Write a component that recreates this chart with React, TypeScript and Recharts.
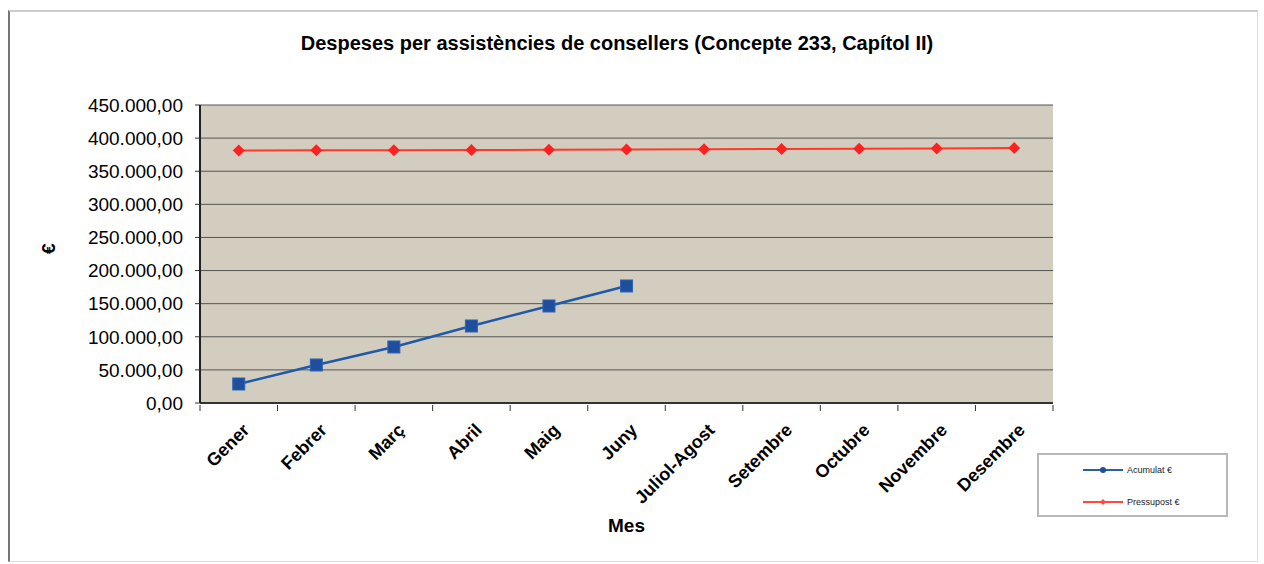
import { CartesianGrid, Line, LineChart, XAxis, YAxis } from 'recharts';

const months = ['Gener', 'Febrer', 'Març', 'Abril', 'Maig', 'Juny', 'Juliol-Agost', 'Setembre', 'Octubre', 'Novembre', 'Desembre'];
const acumulat = [28700, 57400, 84600, 116300, 146500, 176700, null, null, null, null, null];
const pressupost = [381300, 381500, 381800, 382000, 382300, 382700, 383200, 383700, 384100, 384500, 384900];
const yTicks = [0, 50000, 100000, 150000, 200000, 250000, 300000, 350000, 400000, 450000];
const seriesNames = ['Acumulat €', 'Pressupost €'];

const data = months.map((mes, i) => ({ mes, acumulat: acumulat[i], pressupost: pressupost[i] }));

const PLOT_W = 853;
const HALF_BAND = PLOT_W / months.length / 2;
const FONT = 'Arial, "Liberation Sans", sans-serif';

const fmt = (v: number) => {
  const int = Math.floor(v).toString().replace(/\B(?=(\d{3})+(?!\d))/g, '.');
  return `${int},00`;
};

const XTick = (props: any) => {
  const { x, y, payload, index } = props;
  return (
    <g transform={`translate(${x},${y})`}>
      <line x1={-HALF_BAND} x2={-HALF_BAND} y1={-6} y2={0} stroke="#333" />
      {index === months.length - 1 && <line x1={HALF_BAND} x2={HALF_BAND} y1={-6} y2={0} stroke="#333" />}
      <text
        x={-6}
        y={10}
        textAnchor="end"
        transform="rotate(-45)"
        fontFamily={FONT}
        fontWeight="bold"
        fontSize={18}
        fill="#000"
        dy="0.7em"
      >
        {payload.value}
      </text>
    </g>
  );
};

const SquareDot = (props: any) => {
  const { cx, cy, value } = props;
  if (value == null || cx == null || cy == null) return null;
  return <rect x={cx - 6} y={cy - 6} width={12} height={12} fill="#1f4f9c" stroke="#2b64b8" strokeWidth={1} />;
};

const DiamondDot = (props: any) => {
  const { cx, cy } = props;
  if (cx == null || cy == null) return null;
  return <polygon points={`${cx},${cy - 6} ${cx + 6},${cy} ${cx},${cy + 6} ${cx - 6},${cy}`} fill="#ff2020" />;
};

const LegendBox = () => (
  <div
    style={{
      position: 'absolute',
      left: 1037,
      top: 453,
      width: 191,
      height: 64,
      border: '2px solid #b8b8b8',
      background: '#fff',
      boxSizing: 'border-box',
      fontFamily: FONT,
      fontSize: 9,
      color: '#222',
    }}
  >
    {[
      { label: seriesNames[0], color: '#2a5fa8', marker: 'circle' },
      { label: seriesNames[1], color: '#ff4a3a', marker: 'diamond' },
    ].map((item, i) => (
      <div key={item.label} style={{ position: 'absolute', left: 44, top: i === 0 ? 9 : 41, display: 'flex', alignItems: 'center' }}>
        <svg width={42} height={12}>
          <line x1={0} x2={40} y1={6} y2={6} stroke={item.color} strokeWidth={2} />
          {item.marker === 'circle' ? (
            <circle cx={20} cy={6} r={3} fill="#1f4f9c" />
          ) : (
            <polygon points="20,3 23,6 20,9 17,6" fill={item.color} />
          )}
        </svg>
        <span style={{ marginLeft: 2 }}>{item.label}</span>
      </div>
    ))}
  </div>
);

export default function App() {
  return (
    <div style={{ position: 'absolute', left: 0, top: 0, width: 1264, height: 564, background: '#fff' }}>
      <div
        style={{
          position: 'absolute',
          left: 8,
          top: 10,
          width: 1250,
          height: 552,
          borderLeft: '2px solid #777',
          borderTop: '2px solid #ccc',
          borderRight: '1px solid #ddd',
          borderBottom: '1px solid #ddd',
          boxSizing: 'border-box',
        }}
      />
      <div
        style={{
          position: 'absolute',
          left: 0,
          top: 32,
          width: 1234,
          textAlign: 'center',
          fontFamily: FONT,
          fontWeight: 'bold',
          fontSize: 20,
          color: '#000',
        }}
      >
        Despeses per assistències de consellers (Concepte 233, Capítol II)
      </div>
      <div style={{ position: 'absolute', left: 0, top: 0 }}>
        <LineChart width={1264} height={564} data={data} margin={{ top: 105, right: 211, bottom: 0, left: 0 }}>
          <CartesianGrid vertical={false} stroke="#555" strokeWidth={1} fill="#d3cdbf" />
          <XAxis
            dataKey="mes"
            type="category"
            height={161}
            padding={{ left: HALF_BAND, right: HALF_BAND }}
            axisLine={{ stroke: '#333', strokeWidth: 2 }}
            tickLine={false}
            tick={<XTick />}
            interval={0}
            label={{ value: 'Mes', position: 'insideBottom', offset: 32, fontFamily: FONT, fontWeight: 'bold', fontSize: 19, fill: '#000' }}
          />
          <YAxis
            width={200}
            domain={[0, 450000]}
            ticks={yTicks}
            interval={0}
            tickFormatter={fmt}
            axisLine={{ stroke: '#222', strokeWidth: 2 }}
            tickLine={{ stroke: '#333' }}
            tickSize={5}
            tickMargin={12}
            tick={{ fontFamily: FONT, fontSize: 19, fill: '#000' }}
            label={{ value: '€', angle: -90, position: 'insideLeft', offset: 48, fontFamily: FONT, fontWeight: 'bold', fontSize: 19, fill: '#000' }}
          />
          <YAxis yAxisId="right" orientation="right" width={0} tick={false} tickLine={false} axisLine={{ stroke: '#888', strokeWidth: 2 }} />
          <Line
            dataKey="acumulat"
            name={seriesNames[0]}
            stroke="#1f5aa6"
            strokeWidth={2.5}
            dot={<SquareDot />}
            activeDot={false}
            connectNulls={false}
            isAnimationActive={false}
          />
          <Line
            dataKey="pressupost"
            name={seriesNames[1]}
            stroke="#ff3a2a"
            strokeWidth={2}
            dot={<DiamondDot />}
            activeDot={false}
            isAnimationActive={false}
          />
        </LineChart>
      </div>
      <LegendBox />
    </div>
  );
}
